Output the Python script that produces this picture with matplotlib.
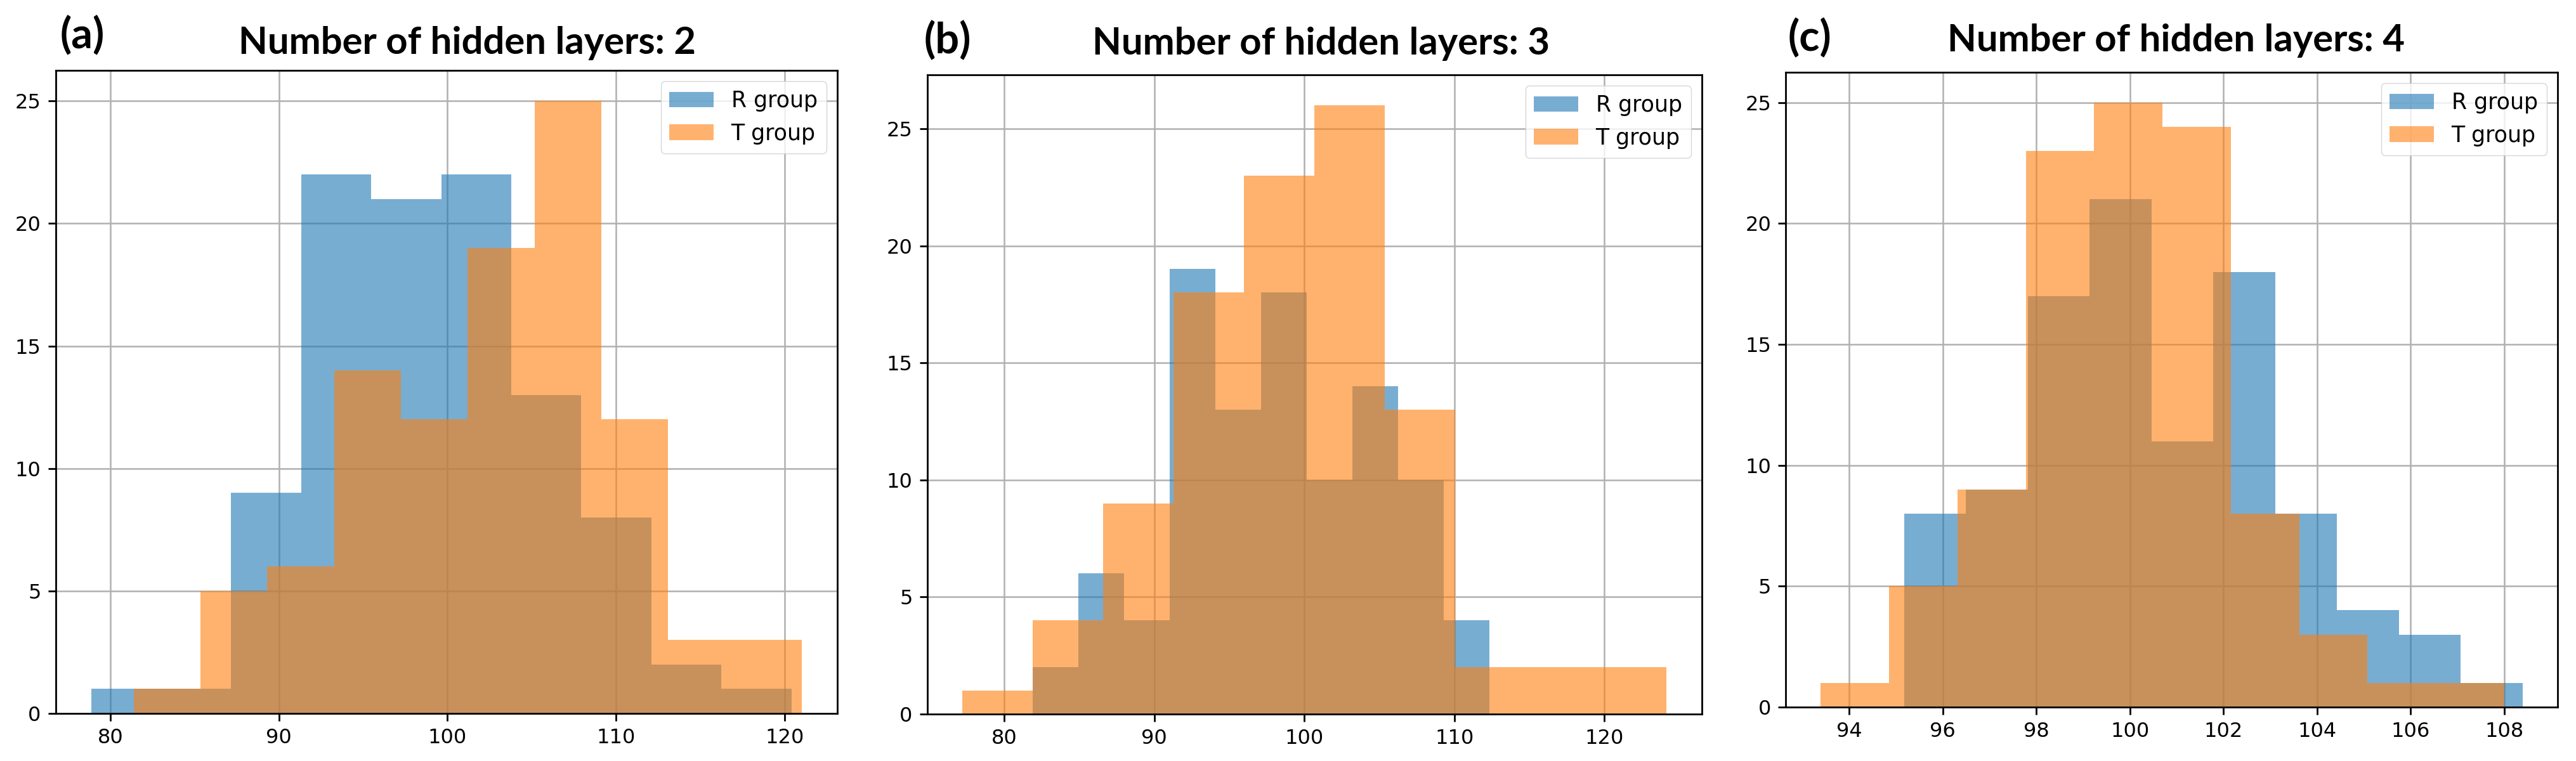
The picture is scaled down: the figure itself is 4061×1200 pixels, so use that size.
import numpy as np
import matplotlib
matplotlib.use("Agg")
import matplotlib.pyplot as plt

# histogram counts (10 bins per group)
# (a) 2 hidden layers
r_counts_2 = [1, 1, 9, 22, 21, 22, 13, 8, 2, 1]
r_range_2 = (78.86, 120.40)
t_counts_2 = [1, 5, 6, 14, 12, 19, 25, 12, 3, 3]
t_range_2 = (81.38, 121.01)

# (b) 3 hidden layers
r_counts_3 = [2, 6, 4, 19, 13, 18, 10, 14, 10, 4]
r_range_3 = (81.89, 112.36)
t_counts_3 = [1, 4, 9, 18, 23, 26, 13, 2, 2, 2]
t_range_3 = (77.20, 124.16)

# (c) 4 hidden layers
r_counts_4 = [8, 9, 17, 21, 11, 18, 8, 4, 3, 1]
r_range_4 = (95.17, 108.39)
t_counts_4 = [1, 5, 9, 23, 25, 24, 8, 3, 1, 1]
t_range_4 = (93.39, 108.00)

panels = [
    ("(a)", "Number of hidden layers: 2", r_counts_2, r_range_2, t_counts_2, t_range_2),
    ("(b)", "Number of hidden layers: 3", r_counts_3, r_range_3, t_counts_3, t_range_3),
    ("(c)", "Number of hidden layers: 4", r_counts_4, r_range_4, t_counts_4, t_range_4),
]

# axes boxes in pixels (left, top, right, bottom) of the 4061x1200 picture
W, H = 4061, 1200
boxes = [(87.5, 111, 1320, 1125), (1461.6, 118, 2683, 1126), (2815, 114, 4032, 1115)]
title_pos = [(736, 85), (2083, 86), (3430, 81)]
label_pos = [(95, 76), (1457, 84), (2819, 80)]

plt.rcParams['axes.linewidth'] = 2.0
plt.rcParams['xtick.major.width'] = 2.0
plt.rcParams['ytick.major.width'] = 2.0
plt.rcParams['xtick.major.size'] = 8.5
plt.rcParams['ytick.major.size'] = 8.5
plt.rcParams['xtick.major.pad'] = 8
plt.rcParams['ytick.major.pad'] = 8
plt.rcParams['grid.linewidth'] = 1.8

fig = plt.figure(figsize=(W / 100, H / 100), dpi=100)

head_font = ['Lato', 'Liberation Sans', 'DejaVu Sans']

for i, (tag, title, rc, rr, tc, tr) in enumerate(panels):
    l, t, r, b = boxes[i]
    ax = fig.add_axes([l / W, 1 - b / H, (r - l) / W, (b - t) / H])
    r_edges = np.linspace(rr[0], rr[1], len(rc) + 1)
    t_edges = np.linspace(tr[0], tr[1], len(tc) + 1)
    ax.hist(r_edges[:-1], bins=r_edges, weights=rc, alpha=0.6, label='R group')
    ax.hist(t_edges[:-1], bins=t_edges, weights=tc, alpha=0.6, label='T group')
    ax.grid(True)
    ax.set_axisbelow(True)
    ax.tick_params(labelsize=23)
    ax.legend(fontsize=25, loc='upper right')
    tx, ty = title_pos[i]
    fig.text(tx / W, 1 - ty / H, title, ha='center', va='baseline',
             fontsize=43, fontweight='bold', family=head_font)
    lx, ly = label_pos[i]
    fig.text(lx / W, 1 - ly / H, tag, ha='left', va='baseline',
             fontsize=48, fontweight='bold', family=head_font)

fig.savefig("out.png", dpi=100)
